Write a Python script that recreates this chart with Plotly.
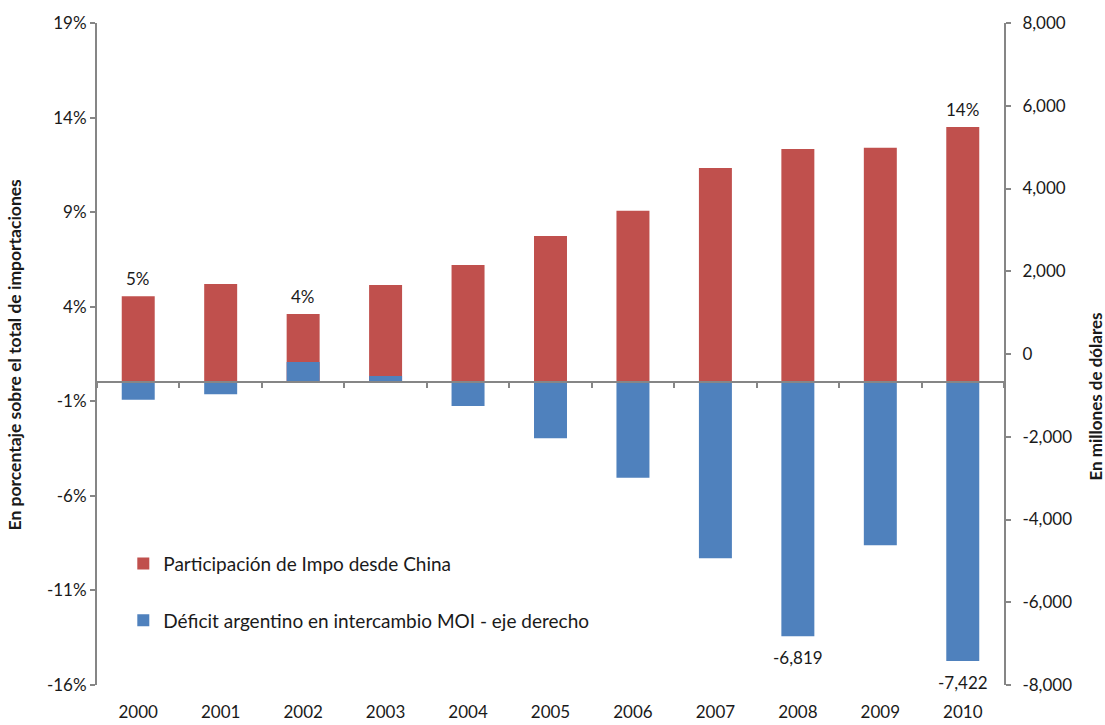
import plotly.graph_objects as go

# ---- data ----
years = ["2000", "2001", "2002", "2003", "2004", "2005", "2006", "2007", "2008", "2009", "2010"]
share_pct = [4.55, 5.20, 3.61, 5.15, 6.21, 7.74, 9.08, 11.34, 12.34, 12.40, 13.5]
deficit_musd = [-1104, -975, -193, -529, -1256, -2038, -2990, -4935, -6819, -4622, -7422]
share_label_years = ["2000", "2002", "2010"]
deficit_label_years = ["2008", "2010"]
left_ticks = [-16, -11, -6, -1, 4, 9, 14, 19]
right_ticks = [-8000, -6000, -4000, -2000, 0, 2000, 4000, 6000, 8000]

name_share = "Participación de Impo desde China"
name_def = "Déficit argentino en intercambio MOI - eje derecho"
title_left = "En porcentaje sobre el total de importaciones"
title_right = "En millones de dólares"

# ---- styling ----
FONT = "Lato, 'Open Sans', sans-serif"
RED = "#C0504D"
BLUE = "#4F81BD"
AXIS = "#868686"
TXT = "#1a1a1a"

left_range = [-16, 19]
right_range = [-8000, 8000]
zero_frac = (0 - left_range[0]) / (left_range[1] - left_range[0])
base_right = right_range[0] + zero_frac * (right_range[1] - right_range[0])


def fmt_num(v):
    s = f"{abs(v):,}"
    return ("-" if v < 0 else "") + s


def fmt_pct(v):
    return ("-" if v < 0 else "") + f"{abs(v)}%"


fig = go.Figure()
fig.add_trace(go.Bar(
    x=years, y=share_pct, name=name_share, marker=dict(color=RED, line=dict(width=0)),
    width=0.4, xaxis="x", yaxis="y", legendgroup="a",
    hovertemplate="%{x}: %{y:.1f}%<extra></extra>",
))
fig.add_trace(go.Bar(
    x=years, y=[v - base_right for v in deficit_musd], base=base_right,
    customdata=deficit_musd, hovertemplate="%{x}: %{customdata:,}<extra></extra>",
    name=name_def, marker=dict(color=BLUE, line=dict(width=0)),
    width=0.4, xaxis="x2", yaxis="y2", legendgroup="b",
))

annotations = []
for i, (y, v) in enumerate(zip(years, share_pct)):
    if y in share_label_years:
        annotations.append(dict(x=i, y=v, xref="x", yref="y", text=f"{v:.0f}%",
                                showarrow=False, yanchor="middle", yshift=18,
                                font=dict(family=FONT, size=17, color=TXT)))
for i, (y, v) in enumerate(zip(years, deficit_musd)):
    if y in deficit_label_years:
        annotations.append(dict(x=i, y=v, xref="x2", yref="y2", text=fmt_num(v),
                                showarrow=False, yanchor="middle", yshift=-21,
                                font=dict(family=FONT, size=17, color=TXT)))
annotations += [
    dict(text=f"<b>{title_left}</b>", textangle=-90, xref="paper", yref="paper",
         x=-0.091, y=0.5, xanchor="center", yanchor="middle", showarrow=False,
         font=dict(family=FONT, size=17.5, color=TXT)),
    dict(text=f"<b>{title_right}</b>", textangle=-90, xref="paper", yref="paper",
         x=1.1005, y=0.436, xanchor="center", yanchor="middle", showarrow=False,
         font=dict(family=FONT, size=17, color=TXT)),
]

fig.update_layout(
    width=1105, height=725,
    margin=dict(l=97, r=101, t=23, b=40, autoexpand=False),
    paper_bgcolor="white", plot_bgcolor="white",
    font=dict(family=FONT, size=17, color=TXT),
    barmode="overlay",
    showlegend=True,
    legend=dict(x=0.029, y=0.212, xanchor="left", yanchor="top",
                bgcolor="rgba(0,0,0,0)", font=dict(family=FONT, size=19, color=TXT),
                tracegroupgap=29, traceorder="grouped"),
    xaxis=dict(type="category", categoryorder="array", categoryarray=years,
               range=[-0.5, len(years) - 0.5], showline=False, ticks="",
               ticklabelstandoff=15, automargin=False,
               showgrid=False, zeroline=False, tickfont=dict(family=FONT, size=17, color=TXT)),
    xaxis2=dict(type="category", categoryorder="array", categoryarray=years,
                range=[-0.5, len(years) - 0.5], overlaying="x", anchor="free",
                position=zero_frac, side="bottom", showline=True, linecolor=AXIS, linewidth=2,
                ticks="outside", tickson="boundaries", ticklen=5, tickcolor=AXIS, tickwidth=1.5,
                showticklabels=False, showgrid=False, zeroline=False, automargin=False),
    yaxis=dict(range=left_range, tickvals=left_ticks, ticktext=[fmt_pct(v) for v in left_ticks],
               showline=True, linecolor=AXIS, linewidth=2, ticks="outside", ticklen=5,
               tickcolor=AXIS, tickwidth=1.5, showgrid=False, zeroline=False, automargin=False,
               tickfont=dict(family=FONT, size=17, color=TXT)),
    yaxis2=dict(range=right_range, tickvals=right_ticks, ticktext=[fmt_num(v) for v in right_ticks],
                overlaying="y", side="right", anchor="x2",
                showline=True, linecolor=AXIS, linewidth=2, ticks="outside", ticklen=5,
                ticklabelstandoff=8, automargin=False,
                tickcolor=AXIS, tickwidth=1.5, showgrid=False, zeroline=False,
                tickfont=dict(family=FONT, size=17, color=TXT)),
    annotations=annotations,
)

fig.write_html("out.html")
